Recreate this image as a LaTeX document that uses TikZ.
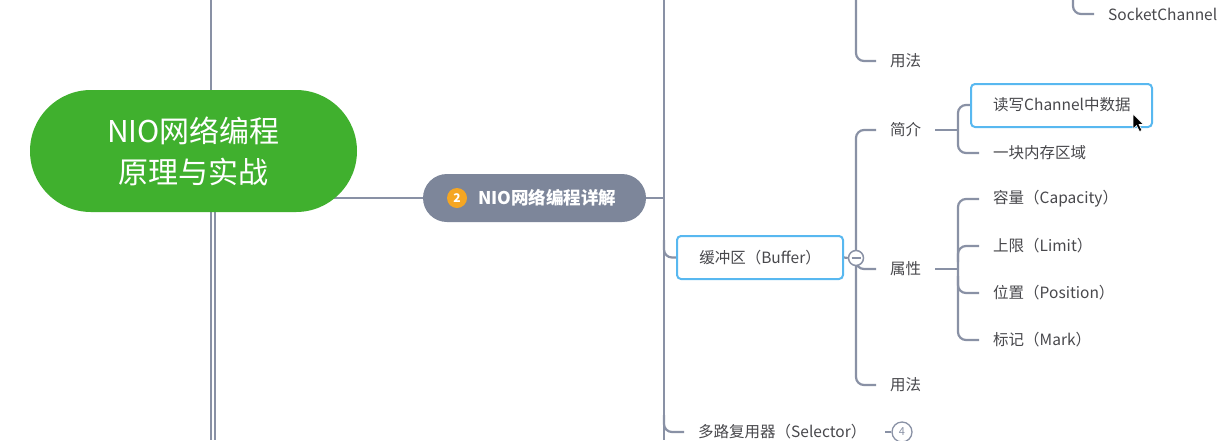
\documentclass[tikz,border=0pt]{standalone}
\usepackage{fontspec}
\setmainfont{Noto Sans CJK SC}
\usetikzlibrary{backgrounds,calc}
\definecolor{lc}{RGB}{137,145,165}
\definecolor{tc}{RGB}{72,72,76}
\definecolor{rootgreen}{RGB}{64,176,46}
\definecolor{graybg}{RGB}{125,134,154}
\definecolor{orangec}{RGB}{245,166,35}
\definecolor{selblue}{RGB}{88,184,240}
\begin{document}
\begin{tikzpicture}[x=1pt,y=-1pt,
  conn/.style={draw=lc,line width=2.2pt},
  rc/.style={conn,rounded corners=8pt},
  leaf/.style={anchor=west,text=tc,font=\fontsize{15.5}{18}\selectfont,inner xsep=14pt,inner ysep=2pt},
  rootnode/.style={fill=rootgreen,text=white,rounded corners=61pt,minimum width=327pt,minimum height=122pt,align=center,font=\fontsize{30}{41}\selectfont},
  graynode/.style={fill=graybg,rounded corners=24pt,minimum width=223pt,minimum height=48pt},
  bluebox/.style={draw=selblue,line width=2pt,rounded corners=4pt,fill=white},
]
\useasboundingbox (0,0) rectangle (1220,440);

% nodes
\node[rootnode] (root) at (193.5,151) {NIO网络编程\\原理与实战};
\node[graynode] (gray) at (534.5,198) {};
\node[circle,fill=orangec,minimum size=20pt,inner sep=0,text=white,font=\fontsize{12}{12}\selectfont\bfseries] (n2) at (457,198) {2};
\node[anchor=west,text=white,inner sep=0,font=\fontsize{17.5}{20}\selectfont\bfseries] (gt) at (478,198) {NIO网络编程详解};

\node[bluebox,minimum width=166pt,minimum height=43pt,text=tc,font=\fontsize{15.5}{18}\selectfont] (buf) at (760,257.5) {缓冲区（Buffer）};
\node[circle,draw=lc,line width=1.5pt,fill=white,minimum size=15pt,inner sep=0] (col) at (856,258) {};
\draw[lc,line width=1.5pt] ($(col.center)+(-4.5,0)$) -- ($(col.center)+(4.5,0)$);

\node[bluebox,minimum width=181pt,minimum height=43pt] (hl) at (1061.5,105.5) {};

\node[leaf] (yf0) at (876,61) {用法};
\node[leaf] (sc) at (1094,14) {SocketChannel};
\node[leaf] (jj) at (876,130) {简介};
\node[leaf] (sx) at (876,269) {属性};
\node[leaf] (yf) at (876,385) {用法};
\node[leaf] (c1) at (979,105) {读写Channel中数据};
\node[leaf] (c2) at (979,153) {一块内存区域};
\node[leaf] (p1) at (979,199) {容量（Capacity）};
\node[leaf] (p2) at (979,246) {上限（Limit）};
\node[leaf] (p3) at (979,293) {位置（Position）};
\node[leaf] (p4) at (979,340) {标记（Mark）};
\node[leaf] (sel) at (684,432) {多路复用器（Selector）};
\node[circle,draw=lc,line width=1.3pt,fill=white,minimum size=20pt,inner sep=0,text=lc,font=\fontsize{11}{11}\selectfont] (n4) at (902,432) {4};
\coordinate (s4) at (885,432);

% cursor
\filldraw[black,draw=white,line width=0.6pt] (1133,114) -- (1133,129) -- (1136.5,125.5) -- (1139.5,131.5) -- (1142,130.3) -- (1139,124.5) -- (1143.5,124.5) -- cycle;

\begin{pgfonlayer}{background}
\fill[white] (0,0) rectangle (1220,440);
\draw[conn] (211,0) -- (211,440);
\draw[conn] (215,212) -- (215,440);
\draw[conn] (gray.west) -- (gray.west -| root.center);
\draw[conn] (gray.east) -- (664,198);
\draw[conn] (664,0) -- (664,440);
\draw[rc] (664,240) |- (buf.west);
\draw[rc] (664,415) |- (sel.west);
\draw[conn] (buf.east) -- (col.west);
\draw[rc] (856,0) |- (yf0.west);
\draw[rc] (1073,0) |- (sc.west);
\draw[rc] (jj.west) -| (856,258) |- (yf.west);
\draw[rc] (col.south) |- (sx.west);
\draw[conn] (jj.east) -- (958,130);
\draw[rc] (c1.west) -| (958,130) |- (c2.west);
\draw[conn] (sx.east) -- (958,269);
\draw[rc] (p1.west) -| (958,269) |- (p4.west);
\draw[rc] (958,262) |- (p2.west);
\draw[rc] (958,276) |- (p3.west);
\draw[conn] (s4) -- (n4.west);
\end{pgfonlayer}
\end{tikzpicture}
\end{document}
